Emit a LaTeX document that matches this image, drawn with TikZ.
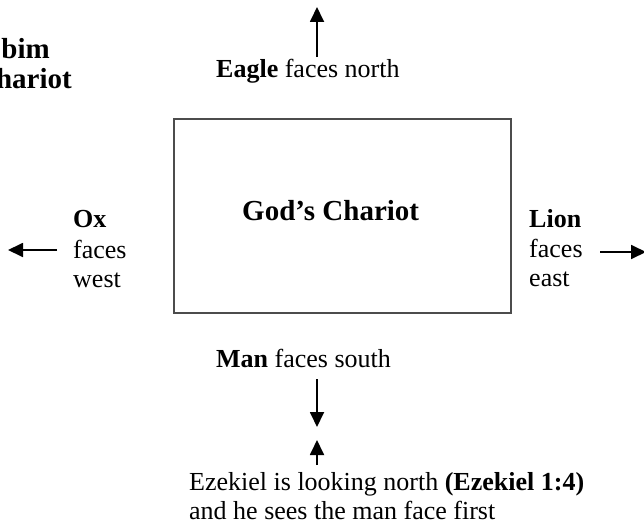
\documentclass[tikz,border=0pt]{standalone}
\usepackage{fontspec}
\setmainfont{Liberation Serif}
\usetikzlibrary{arrows.meta}
\begin{document}
\begin{tikzpicture}[x=1pt,y=-1pt,
  txt/.style={anchor=base west,inner sep=0pt,font=\fontsize{26}{30}\selectfont},
  head/.style={inner sep=0pt,font=\fontsize{29}{33}\selectfont\bfseries},
  arr/.style={line width=1.8pt,-{Triangle[length=15pt,width=14pt]}},
  box/.style={draw=black!70,line width=1.6pt,inner sep=0pt,minimum width=337pt,minimum height=194pt,anchor=north west}]
\useasboundingbox (0,0) rectangle (644,527);
% top-left heading (cut off)
\node[head,anchor=base east] (hA) at (50,59) {bim};
\node[head,anchor=base east] (hB) at (72,88) {hariot};
% chariot box
\node[box] (chariot) at (173,118) {};
\node[head,anchor=base west] (title) at (242,220) {God’s Chariot};
% north
\node[txt] (eagle) at (216,77) {\textbf{Eagle} faces north};
\coordinate (nT) at (317,57);
\coordinate (nH) at (317,7);
\draw[arr] (nT) -- (nH);
% west
\node[txt] (ox1) at (73,227) {\textbf{Ox}};
\node[txt] (ox2) at (73,258) {faces};
\node[txt] (ox3) at (73,287) {west};
\coordinate (wT) at (57,250);
\coordinate (wH) at (8,250);
\draw[arr] (wT) -- (wH);
% east
\node[txt] (li1) at (529,227) {\textbf{Lion}};
\node[txt] (li2) at (529,257) {faces};
\node[txt] (li3) at (529,286) {east};
\coordinate (eT) at (600,252);
\coordinate (eH) at (646,252);
\draw[arr] (eT) -- (eH);
% south
\node[txt] (man) at (216,367) {\textbf{Man} faces south};
\coordinate (sT) at (317,379);
\coordinate (sH) at (317,427);
\draw[arr] (sT) -- (sH);
\coordinate (uT) at (317,465);
\coordinate (uH) at (317,440);
\draw[arr] (uT) -- (uH);
\node[txt] (ez1) at (189,490) {Ezekiel is looking north \textbf{(Ezekiel 1:4)}};
\node[txt] (ez2) at (189,519) {and he sees the man face first};
\end{tikzpicture}
\end{document}
